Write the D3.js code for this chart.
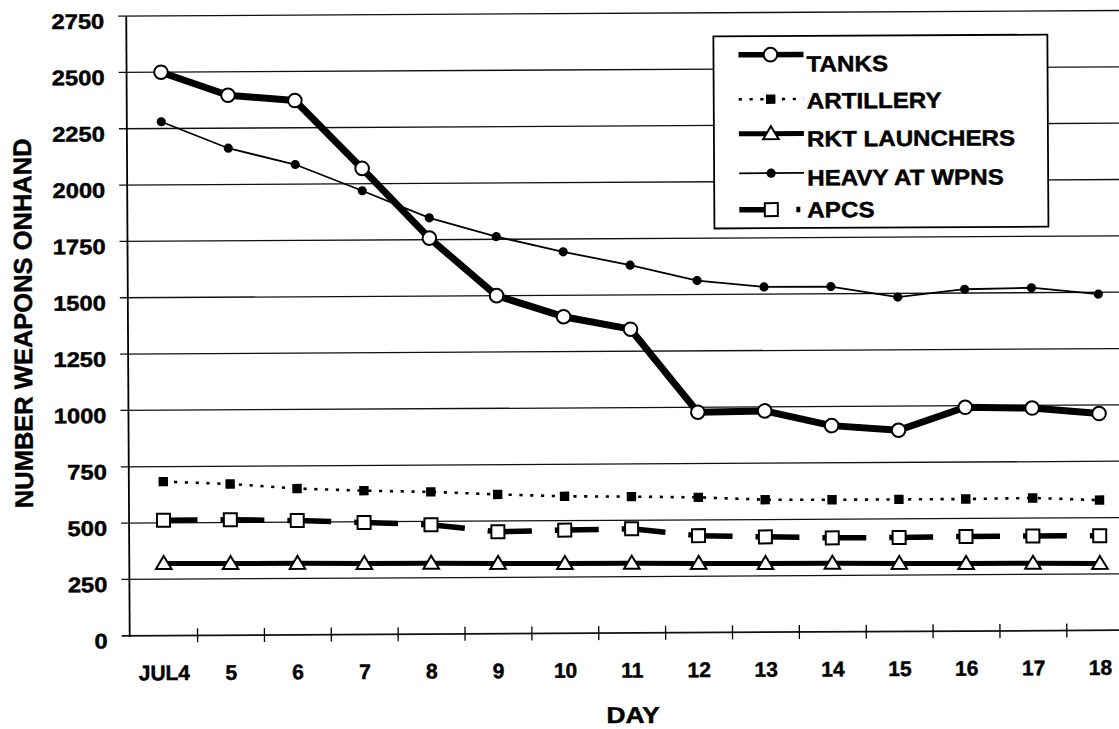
<!DOCTYPE html>
<html><head><meta charset="utf-8">
<script src="https://cdn.jsdelivr.net/npm/d3@7"></script>
<style>
body{margin:0;background:#fff}
svg{display:block}
text{font-family:"Liberation Sans",Arial,sans-serif;font-weight:bold;fill:#000;stroke:#000;stroke-width:0.45px}
</style></head>
<body><svg id="chart" width="1119" height="729"></svg>
<script>
const days = ["JUL4","5","6","7","8","9","10","11","12","13","14","15","16","17","18"];
const yTicks = [0,250,500,750,1000,1250,1500,1750,2000,2250,2500,2750];
const tanks        = [2500,2396,2371,2068,1757,1500,1405,1348,978,982,915,893,993,988,962];
const artillery    = [683,671,649,638,631,618,608,605,600,588,586,586,586,589,578];
const rktLaunchers = [320,318,317,315,314,312,310,309,307,305,304,302,300,299,297];
const heavyAtWpns  = [2280,2161,2087,1969,1847,1762,1693,1632,1562,1532,1532,1484,1517,1522,1492];
const apcs         = [512,512,507,497,485,452,458,462,430,423,417,417,420,420,420];
const seriesNames  = ["TANKS","ARTILLERY","RKT LAUNCHERS","HEAVY AT WPNS","APCS"];
const xTitle = "DAY";
const yTitle = "NUMBER WEAPONS ONHAND";

const svg = d3.select("#chart");
const root = svg.append("g").attr("transform","rotate(-0.32,620,330)");

const x = d3.scaleBand().domain(days).range([129,1132]).padding(0);
const cx = d => x(d) + x.bandwidth()/2;
const y = d3.scaleLinear().domain([0,2750]).range([633,13.3]);
const y0 = y(0);

// gridlines
root.append("g").selectAll("line").data(yTicks).join("line")
  .attr("x1",120).attr("x2",1130)
  .attr("y1",d=>y(d)).attr("y2",d=>y(d))
  .attr("stroke","#111").attr("stroke-width",d=>d===0?1.8:1.3);

// y axis line
root.append("line").attr("x1",128).attr("x2",128).attr("y1",y(2750)).attr("y2",y0+1)
  .attr("stroke","#000").attr("stroke-width",1.8);

// y tick labels
root.append("g").selectAll("text").data(yTicks).join("text")
  .attr("transform",d=>`translate(106,${y(d)+12.5}) scale(1.13,1)`)
  .attr("text-anchor","end").attr("font-size",21).text(d=>d);

// x boundary ticks
const bounds = days.slice(1).map(d=>x(d)).concat([x(days[days.length-1])+x.bandwidth()]);
root.append("g").selectAll("line").data(bounds).join("line")
  .attr("x1",d=>d).attr("x2",d=>d).attr("y1",y0-7).attr("y2",y0+7)
  .attr("stroke","#000").attr("stroke-width",1.3);

// x labels
root.append("g").selectAll("text").data(days).join("text")
  .attr("x",d=>cx(d)).attr("y",677.5).attr("text-anchor","middle")
  .attr("font-size",21).text(d=>d);

root.append("text").attr("transform","translate(631,723) scale(1.15,1)")
  .attr("text-anchor","middle").attr("font-size",23).text(xTitle);
root.append("text").attr("transform","translate(32,320) rotate(-90)")
  .attr("text-anchor","middle").attr("font-size",25.5).text(yTitle);

// marker helpers
function mCircleOpen(g,px,py){g.append("circle").attr("cx",px).attr("cy",py).attr("r",6.8).attr("fill","#fff").attr("stroke","#000").attr("stroke-width",2);}
function mCircleFilled(g,px,py){g.append("circle").attr("cx",px).attr("cy",py).attr("r",4.6).attr("fill","#000");}
function mSquareFilled(g,px,py){g.append("rect").attr("x",px-4.7).attr("y",py-4.7).attr("width",9.4).attr("height",9.4).attr("fill","#000");}
function mSquareOpen(g,px,py){g.append("rect").attr("x",px-6.5).attr("y",py-6.5).attr("width",13).attr("height",13).attr("fill","#fff").attr("stroke","#000").attr("stroke-width",2);}
function mTriangle(g,px,py){g.append("path").attr("d",`M${px},${py-7.5}L${px+7.8},${py+5.5}L${px-7.8},${py+5.5}Z`).attr("fill","#fff").attr("stroke","#000").attr("stroke-width",2);}

const line = d3.line().x((v,i)=>cx(days[i])).y(v=>y(v));
const plot = root.append("g");

// RKT
plot.append("path").attr("d",line(rktLaunchers)).attr("fill","none").attr("stroke","#000").attr("stroke-width",5);
rktLaunchers.forEach((v,i)=>mTriangle(plot,cx(days[i]),y(v)));

// APCS - dashed per segment
for(let i=0;i<apcs.length-1;i++){
  plot.append("line").attr("x1",cx(days[i])).attr("y1",y(apcs[i]))
    .attr("x2",cx(days[i+1])).attr("y2",y(apcs[i+1]))
    .attr("stroke","#000").attr("stroke-width",5.5).attr("stroke-dasharray","34,23,30");
}
apcs.forEach((v,i)=>mSquareOpen(plot,cx(days[i]),y(v)));

// ARTILLERY - dotted
plot.append("path").attr("d",line(artillery)).attr("fill","none").attr("stroke","#000")
  .attr("stroke-width",2.6).attr("stroke-dasharray","3.2,7.6");
artillery.forEach((v,i)=>mSquareFilled(plot,cx(days[i]),y(v)));

// HEAVY AT WPNS
plot.append("path").attr("d",line(heavyAtWpns)).attr("fill","none").attr("stroke","#000").attr("stroke-width",1.8);
heavyAtWpns.forEach((v,i)=>mCircleFilled(plot,cx(days[i]),y(v)));

// TANKS
plot.append("path").attr("d",line(tanks)).attr("fill","none").attr("stroke","#000").attr("stroke-width",7).attr("stroke-linejoin","round");
tanks.forEach((v,i)=>mCircleOpen(plot,cx(days[i]),y(v)));

// legend
const lg = root.append("g");
lg.append("rect").attr("x",715).attr("y",37).attr("width",334).attr("height",192)
  .attr("fill","#fff").attr("stroke","#000").attr("stroke-width",1.8);
const symY = [55.5,100,134.5,174,210.5];
const txtY = [64.5,101.5,139.5,178.5,210.5];
const lx1 = 740, lx2 = 805, lm = 772;
// tanks
lg.append("line").attr("x1",lx1).attr("x2",lx2).attr("y1",symY[0]).attr("y2",symY[0]).attr("stroke","#000").attr("stroke-width",5.5);
mCircleOpen(lg,lm,symY[0]);
// artillery
lg.append("line").attr("x1",lx1).attr("x2",lx2).attr("y1",symY[1]).attr("y2",symY[1]).attr("stroke","#000").attr("stroke-width",2.6).attr("stroke-dasharray","3.2,7.6");
mSquareFilled(lg,lm,symY[1]);
// rkt
lg.append("line").attr("x1",lx1).attr("x2",lx2).attr("y1",symY[2]).attr("y2",symY[2]).attr("stroke","#000").attr("stroke-width",5);
mTriangle(lg,lm,symY[2]);
// heavy
lg.append("line").attr("x1",lx1).attr("x2",lx2).attr("y1",symY[3]).attr("y2",symY[3]).attr("stroke","#000").attr("stroke-width",1.8);
mCircleFilled(lg,lm,symY[3]);
// apcs
lg.append("line").attr("x1",lx1).attr("x2",lx2).attr("y1",symY[4]).attr("y2",symY[4]).attr("stroke","#000").attr("stroke-width",5.5).attr("stroke-dasharray","30,27,4,20");
mSquareOpen(lg,lm,symY[4]);

lg.selectAll("text.lt").data(seriesNames).join("text").attr("class","lt")
  .attr("transform",(d,i)=>`translate(808,${txtY[i]+8}) scale(1.1,1)`)
  .attr("font-size",22).text(d=>d);
</script></body></html>
